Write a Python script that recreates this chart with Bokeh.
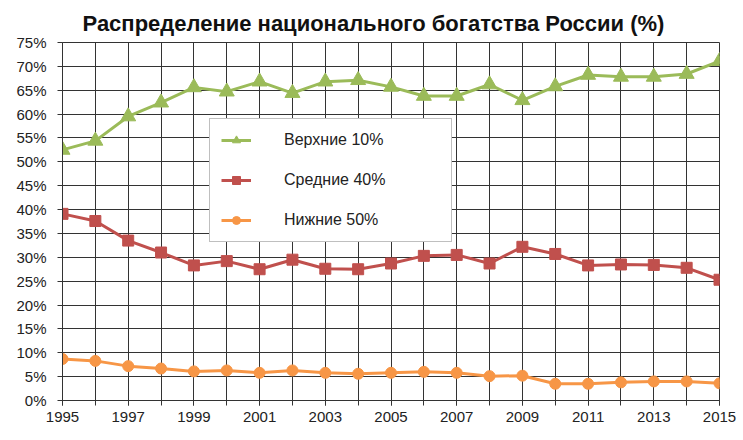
from bokeh.plotting import figure
from bokeh.models import Range1d, FixedTicker, PrintfTickFormatter, Legend, LegendItem
from bokeh.embed import file_html
from bokeh.resources import INLINE

years = [1995, 1996, 1997, 1998, 1999, 2000, 2001, 2002, 2003, 2004, 2005,
         2006, 2007, 2008, 2009, 2010, 2011, 2012, 2013, 2014, 2015]
top10 = [52.5, 54.4, 59.5, 62.4, 65.6, 64.7, 66.8, 64.4, 66.8, 67.1, 65.7,
         63.8, 63.8, 66.2, 62.9, 65.8, 68.2, 67.8, 67.8, 68.4, 71.1]
mid40 = [39.1, 37.6, 33.5, 31.0, 28.3, 29.2, 27.5, 29.5, 27.6, 27.5, 28.7,
         30.3, 30.5, 28.7, 32.2, 30.7, 28.3, 28.5, 28.4, 27.8, 25.3]
bot50 = [8.7, 8.3, 7.2, 6.7, 6.1, 6.3, 5.8, 6.3, 5.8, 5.6, 5.8,
         6.0, 5.8, 5.1, 5.2, 3.5, 3.5, 3.8, 4.0, 4.0, 3.6]
labels = ["Верхние 10%", "Средние 40%", "Нижние 50%"]
y_ticks = [0, 5, 10, 15, 20, 25, 30, 35, 40, 45, 50, 55, 60, 65, 70, 75]
x_ticks = [1995, 1997, 1999, 2001, 2003, 2005, 2007, 2009, 2011, 2013, 2015]
title_text = "Распределение национального богатства России (%)"

GREEN = "#9BBB59"
RED = "#C0504D"
ORANGE = "#F79646"
GRID = "#333333"
FONT = "Liberation Sans"

p = figure(width=743, height=440, output_backend="svg", toolbar_location=None,
           x_range=Range1d(1995, 2015), y_range=Range1d(0, 75),
           min_border_left=62, min_border_right=24, min_border_top=42, min_border_bottom=40,
           title=title_text)

p.title.text_font = FONT
p.title.text_font_size = "22px"
p.title.text_font_style = "bold"
p.title.text_color = "#111111"
p.title.align = "left"
p.title.offset = 20
p.title.standoff = 13

p.background_fill_color = "white"
p.border_fill_color = "white"
p.outline_line_color = GRID
p.outline_line_width = 1

# axes
p.xaxis.ticker = FixedTicker(ticks=x_ticks, minor_ticks=years)
p.yaxis.ticker = FixedTicker(ticks=y_ticks, minor_ticks=[])
p.yaxis.formatter = PrintfTickFormatter(format="%d%%")
for ax in (p.xaxis, p.yaxis):
    ax.axis_line_color = GRID
    ax.major_tick_line_color = GRID
    ax.minor_tick_line_color = GRID
    ax.major_tick_in = 0
    ax.major_tick_out = 5
    ax.minor_tick_in = 0
    ax.minor_tick_out = 5
    ax.major_label_text_font = FONT
    ax.major_label_text_font_size = "15px"
    ax.major_label_text_color = "#222222"
p.yaxis.major_label_standoff = 11
p.xaxis.major_label_standoff = 6

p.xgrid.grid_line_color = GRID
p.xgrid.grid_line_alpha = 1
p.xgrid.minor_grid_line_color = GRID
p.ygrid.grid_line_color = GRID
p.ygrid.grid_line_alpha = 1

# small markers (used for legend swatches; hidden under the big markers)
s1 = p.scatter(years, top10, marker="triangle", size=8, fill_color=GREEN, line_color=GREEN)
s2 = p.scatter(years, mid40, marker="square", size=7, fill_color=RED, line_color=RED)
s3 = p.scatter(years, bot50, marker="circle", size=7, fill_color=ORANGE, line_color=ORANGE)

r1 = p.line(years, top10, line_color=GREEN, line_width=3)
m1 = p.scatter(years, top10, marker="triangle", size=15, fill_color=GREEN, line_color=GREEN)
r2 = p.line(years, mid40, line_color=RED, line_width=3)
m2 = p.scatter(years, mid40, marker="square", size=11, fill_color=RED, line_color=RED)
r3 = p.line(years, bot50, line_color=ORANGE, line_width=3)
m3 = p.scatter(years, bot50, marker="circle", size=11, fill_color=ORANGE, line_color=ORANGE)

legend = Legend(items=[LegendItem(label=labels[0], renderers=[r1, s1]),
                       LegendItem(label=labels[1], renderers=[r2, s2]),
                       LegendItem(label=labels[2], renderers=[r3, s3])],
                location=(147, 158))
legend.padding = 11
legend.spacing = 20
legend.glyph_width = 30
legend.glyph_height = 20
legend.label_height = 20
legend.label_width = 156
legend.label_standoff = 33
legend.label_text_font = FONT
legend.label_text_font_size = "16px"
legend.label_text_color = "#222222"
legend.border_line_color = "#7f7f7f"
legend.border_line_width = 1
legend.background_fill_color = "white"
legend.background_fill_alpha = 1
legend.margin = 0
p.add_layout(legend, "center")

open("out.html", "w").write(file_html(p, INLINE))
